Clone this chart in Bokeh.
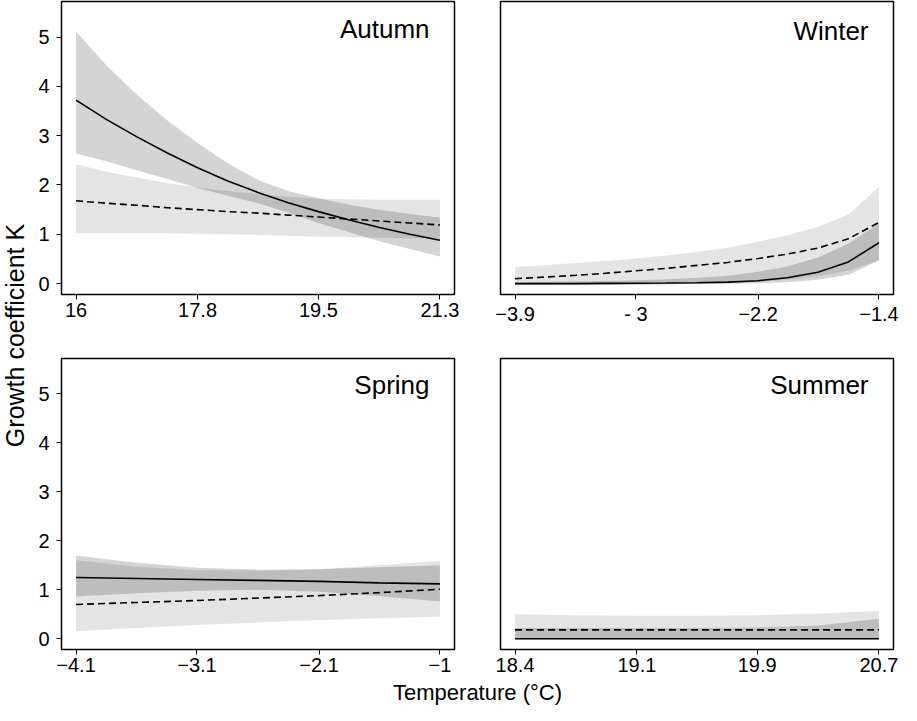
from bokeh.plotting import figure
from bokeh.layouts import row, column
from bokeh.models import Range1d, FixedTicker, Label
from bokeh.embed import file_html
from bokeh.resources import INLINE

FONT = "Liberation Sans"

# ---------------- data ----------------
y_ticks = [0, 1, 2, 3, 4, 5]
y_lim = [0.0, 5.5]

# Autumn
autumn_x = [16.0, 16.44, 16.88, 17.33, 17.77, 18.21, 18.65, 19.09, 19.53, 19.98, 20.42, 20.86, 21.3]
autumn_solid = [3.72, 3.33, 2.98, 2.65, 2.35, 2.08, 1.85, 1.64, 1.46, 1.29, 1.14, 1.00, 0.88]
autumn_solid_hi = [5.11, 4.43, 3.84, 3.31, 2.85, 2.44, 2.10, 1.88, 1.73, 1.60, 1.50, 1.41, 1.34]
autumn_solid_lo = [2.64, 2.48, 2.30, 2.12, 1.94, 1.78, 1.63, 1.44, 1.23, 1.04, 0.86, 0.70, 0.55]
autumn_dash = [1.68, 1.63, 1.59, 1.54, 1.50, 1.46, 1.43, 1.39, 1.35, 1.31, 1.27, 1.23, 1.19]
autumn_dash_hi = [2.42, 2.27, 2.15, 2.04, 1.95, 1.88, 1.82, 1.76, 1.72, 1.71, 1.70, 1.70, 1.70]
autumn_dash_lo = [1.02, 1.02, 1.02, 1.02, 1.01, 1.00, 0.99, 0.97, 0.95, 0.94, 0.93, 0.92, 0.92]
autumn_tick_pos = [16.0, 17.77, 19.53, 21.3]
autumn_tick_lab = ["16", "17.8", "19.5", "21.3"]

# Winter
winter_x = [-3.9, -3.69, -3.48, -3.28, -3.07, -2.86, -2.65, -2.44, -2.23, -2.03, -1.82, -1.61, -1.4]
winter_solid = [0.0, 0.0, 0.0, 0.005, 0.008, 0.012, 0.018, 0.03, 0.06, 0.12, 0.23, 0.44, 0.83]
winter_solid_hi = [0.03, 0.04, 0.05, 0.055, 0.07, 0.09, 0.12, 0.16, 0.24, 0.35, 0.53, 0.81, 1.22]
winter_solid_lo = [-0.02, -0.02, -0.02, -0.02, -0.02, -0.01, 0.0, 0.0, 0.01, 0.03, 0.08, 0.18, 0.47]
winter_dash = [0.10, 0.135, 0.17, 0.21, 0.26, 0.31, 0.37, 0.43, 0.51, 0.60, 0.72, 0.91, 1.24]
winter_dash_hi = [0.34, 0.38, 0.42, 0.46, 0.51, 0.57, 0.64, 0.73, 0.85, 0.98, 1.15, 1.40, 1.96]
winter_dash_lo = [-0.02, -0.02, -0.02, -0.02, -0.02, -0.01, 0.0, 0.01, 0.04, 0.08, 0.15, 0.26, 0.47]
winter_tick_pos = [-3.9, -3.07, -2.23, -1.4]
winter_tick_lab = ["\u22123.9", "- 3", "\u22122.2", "\u22121.4"]

# Spring
spring_x = [-4.1, -3.58, -3.07, -2.55, -2.03, -1.52, -1.0]
spring_solid = [1.25, 1.23, 1.21, 1.19, 1.17, 1.14, 1.12]
spring_solid_hi = [1.70, 1.55, 1.45, 1.41, 1.42, 1.46, 1.50]
spring_solid_lo = [0.86, 0.93, 0.98, 1.00, 0.96, 0.87, 0.76]
spring_dash = [0.70, 0.74, 0.78, 0.83, 0.88, 0.94, 1.01]
spring_dash_hi = [1.60, 1.47, 1.40, 1.39, 1.42, 1.50, 1.59]
spring_dash_lo = [0.15, 0.22, 0.28, 0.33, 0.38, 0.42, 0.45]
spring_tick_pos = [-4.1, -3.07, -2.03, -1.0]
spring_tick_lab = ["\u22124.1", "\u22123.1", "\u22122.1", "\u22121"]

# Summer
summer_x = [18.4, 18.78, 19.17, 19.55, 19.93, 20.32, 20.7]
summer_solid = [0.0, 0.0, 0.0, 0.0, 0.0, 0.0, 0.0]
summer_solid_hi = [0.22, 0.22, 0.22, 0.22, 0.23, 0.27, 0.41]
summer_solid_lo = [-0.01, -0.01, -0.01, -0.01, -0.01, -0.01, -0.01]
summer_dash = [0.18, 0.18, 0.18, 0.18, 0.18, 0.18, 0.18]
summer_dash_hi = [0.50, 0.48, 0.47, 0.47, 0.48, 0.51, 0.57]
summer_dash_lo = [-0.01, -0.01, -0.01, -0.01, -0.01, -0.01, -0.01]
summer_tick_pos = [18.4, 19.17, 19.93, 20.7]
summer_tick_lab = ["18.4", "19.1", "19.9", "20.7"]

y_title = "Growth coefficient K"
x_title = "Temperature (\u00b0C)"


def make_panel(name, x, s, s_lo, s_hi, d, d_lo, d_hi, tpos, tlab, show_y,
               width, height, mbl, mbr, mbt, mbb, title_dy):
    span = x[-1] - x[0]
    ysp = y_lim[1] - y_lim[0]
    xr = Range1d(x[0] - 0.04 * span, x[-1] + 0.04 * span)
    yr = Range1d(y_lim[0] - 0.04 * ysp, y_lim[1] + 0.04 * ysp)
    p = figure(width=width, height=height, x_range=xr, y_range=yr,
               output_backend="svg", toolbar_location=None, title=None,
               y_axis_location="left" if show_y else None,
               min_border_left=mbl, min_border_right=mbr,
               min_border_top=mbt, min_border_bottom=mbb)
    p.varea(x=x, y1=d_lo, y2=d_hi, fill_color="black", fill_alpha=0.105)
    p.varea(x=x, y1=s_lo, y2=s_hi, fill_color="black", fill_alpha=0.17)
    p.line(x, d, line_color="black", line_width=1.6, line_dash="7 4")
    p.line(x, s, line_color="black", line_width=1.6)

    p.xgrid.visible = False
    p.ygrid.visible = False
    p.outline_line_color = "black"
    p.outline_line_width = 1.5
    p.outline_line_alpha = 1.0
    p.background_fill_color = "white"
    p.border_fill_color = "white"

    for ax in p.axis:
        ax.axis_line_color = None
        ax.major_tick_out = 5
        ax.major_tick_in = 0
        ax.major_tick_line_color = "black"
        ax.major_tick_line_width = 1
        ax.minor_tick_line_color = None
        ax.major_label_text_font = FONT
        ax.major_label_text_font_size = "20px"
        ax.major_label_text_color = "black"

    p.xaxis.ticker = FixedTicker(ticks=tpos)
    p.xaxis.major_label_overrides = {float(k): v for k, v in zip(tpos, tlab)}
    p.xaxis.major_label_standoff = 3
    if show_y:
        p.yaxis.ticker = FixedTicker(ticks=y_ticks)
        p.yaxis.major_label_standoff = 7

    p.add_layout(Label(x=xr.end, y=yr.end, x_units="data", y_units="data",
                       x_offset=-25, y_offset=-title_dy, text=name,
                       text_align="right", text_baseline="middle",
                       text_font=FONT, text_font_size="26px",
                       text_color="black"))
    return p


p1 = make_panel("Autumn", autumn_x, autumn_solid, autumn_solid_lo, autumn_solid_hi,
                autumn_dash, autumn_dash_lo, autumn_dash_hi,
                autumn_tick_pos, autumn_tick_lab, True, 447, 332, 31, 23, 1, 38, 27)
p2 = make_panel("Winter", winter_x, winter_solid, winter_solid_lo, winter_solid_hi,
                winter_dash, winter_dash_lo, winter_dash_hi,
                winter_tick_pos, winter_tick_lab, False, 422, 332, 23, 6, 1, 38, 29)
p3 = make_panel("Spring", spring_x, spring_solid, spring_solid_lo, spring_solid_hi,
                spring_dash, spring_dash_lo, spring_dash_hi,
                spring_tick_pos, spring_tick_lab, True, 447, 347, 31, 23, 26, 30, 26)
p4 = make_panel("Summer", summer_x, summer_solid, summer_solid_lo, summer_solid_hi,
                summer_dash, summer_dash_lo, summer_dash_hi,
                summer_tick_pos, summer_tick_lab, False, 422, 347, 23, 6, 26, 30, 26)


def text_fig(w, h):
    f = figure(width=w, height=h, x_range=Range1d(0, w), y_range=Range1d(0, h),
               output_backend="svg", toolbar_location=None, title=None,
               x_axis_location=None, y_axis_location=None, min_border=0)
    f.xgrid.visible = False
    f.ygrid.visible = False
    f.outline_line_color = None
    return f


ylab = text_fig(30, 705)
ylab.add_layout(Label(x=14, y=705 - 335, text=y_title, angle=90, angle_units="deg",
                      text_align="center", text_baseline="middle",
                      text_font=FONT, text_font_size="25px", text_color="black"))

xlab = text_fig(869, 26)
xlab.add_layout(Label(x=447, y=13, text=x_title,
                      text_align="center", text_baseline="middle",
                      text_font=FONT, text_font_size="22px", text_color="black"))

layout = row(ylab, column(row(p1, p2), row(p3, p4), xlab))

open("out.html", "w").write(file_html(layout, INLINE))
